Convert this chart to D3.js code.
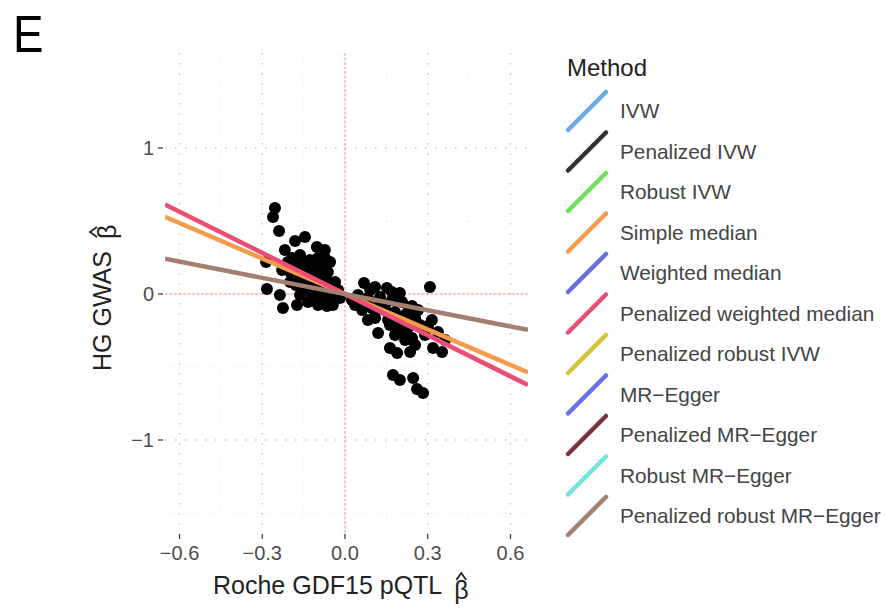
<!DOCTYPE html>
<html><head><meta charset="utf-8">
<script src="https://cdn.jsdelivr.net/npm/d3@7"></script>
<style>body{margin:0;background:#fff}svg{display:block;font-family:"Liberation Sans",Arial,Helvetica,sans-serif}</style>
</head><body><svg id="c" width="885" height="613"></svg>
<script>
// ---- data ----
const pointX = [-0.254,-0.261,-0.239,-0.218,-0.181,-0.145,-0.102,-0.286,-0.283,-0.236,-0.225,-0.174,
  -0.163,-0.127,-0.098,-0.083,-0.116,-0.145,-0.181,-0.199,-0.163,-0.127,-0.091,-0.062,-0.073,-0.109,-0.145,
  -0.054,-0.036,-0.083,-0.098,-0.065,-0.044,-0.120,-0.199,-0.228,-0.073,-0.054,-0.036,-0.025,-0.163,-0.134,-0.091,-0.178,
  -0.192,-0.152,-0.105,-0.069,-0.098,-0.156,-0.054,-0.018,-0.073,-0.207,
  0.069,0.109,0.152,0.199,0.308,0.054,0.120,0.163,0.189,0.236,0.319,0.352,0.337,0.174,0.199,0.247,0.261,0.283,
  0.047,0.083,0.127,0.170,0.207,0.243,0.062,0.098,0.145,0.181,0.218,0.254,0.109,0.156,0.192,0.228,0.272,0.181,0.218,
  0.145,0.083,0.290,0.254,0.363,0.315,0.025,
  0.091,0.127,0.170,0.228,0.265,0.109,0.163,0.207,0.301,0.243,0.073,0.036];
const pointY = [0.589,0.527,0.432,0.301,0.363,0.390,0.322,0.219,0.034,-0.007,-0.096,-0.075,
  0.267,0.233,0.247,0.199,0.164,0.178,0.199,0.151,0.110,0.096,0.130,0.151,0.062,0.041,0.027,
  0.014,-0.021,-0.021,-0.075,-0.082,-0.075,-0.027,0.082,0.164,0.301,0.219,0.082,0.027,-0.007,-0.055,0.027,0.062,
  0.247,0.219,0.192,0.096,0.082,0.062,-0.041,-0.027,0.247,0.219,
  0.075,0.048,0.041,0.007,0.048,-0.062,-0.267,-0.370,-0.404,-0.397,-0.370,-0.397,-0.260,-0.555,-0.589,-0.575,-0.651,-0.678,
  -0.007,-0.027,-0.021,-0.041,-0.055,-0.082,-0.110,-0.096,-0.110,-0.123,-0.144,-0.164,-0.164,-0.178,-0.212,-0.233,-0.212,-0.281,-0.315,
  -0.075,-0.178,-0.281,-0.349,-0.315,-0.178,-0.041,
  0.027,-0.055,0.014,-0.123,-0.110,-0.123,-0.212,-0.260,-0.219,-0.301,-0.041,-0.075];

const methods = ["IVW","Penalized IVW","Robust IVW","Simple median","Weighted median",
  "Penalized weighted median","Penalized robust IVW","MR\u2212Egger","Penalized MR\u2212Egger",
  "Robust MR\u2212Egger","Penalized robust MR\u2212Egger"];
const methodColors = ["#6aaae8","#333333","#6ee05a","#f59c4c","#6a6fe0","#ec4d73",
  "#d8c23a","#6373e8","#7d3040","#6fe3dc","#a28070"];
// fitted slopes (intercept 0) for visible lines
const lineMethods = ["Simple median","Penalized weighted median","Penalized robust MR\u2212Egger"];
const lineSlopes = [-0.81,-0.94,-0.37];

const xTicks = [-0.6,-0.3,0.0,0.3,0.6];
const xTickLabels = ["\u22120.6","\u22120.3","0.0","0.3","0.6"];
const yTicks = [-1,0,1];
const yTickLabels = ["\u22121","0","1"];
const xMinor = [-0.45,-0.15,0.15,0.45];
const yMinor = [-1.5,-0.5,0.5,1.5];

// ---- chart ----
const svg = d3.select("#c");
const P = {l:165, r:528, t:53, b:533};
const x = d3.scaleLinear().domain([-0.6526,0.6635]).range([P.l,P.r]);
const y = d3.scaleLinear().domain([-1.637,1.651]).range([P.b,P.t]);

const grid = svg.append("g");
grid.selectAll(".vmin").data(xMinor).join("line")
  .attr("x1",d=>x(d)).attr("x2",d=>x(d)).attr("y1",P.t).attr("y2",P.b)
  .attr("stroke","#dcdcdc").attr("stroke-width",0.8).attr("stroke-dasharray","0.8,4");
grid.selectAll(".hmin").data(yMinor).join("line")
  .attr("y1",d=>y(d)).attr("y2",d=>y(d)).attr("x1",P.l).attr("x2",P.r)
  .attr("stroke","#dcdcdc").attr("stroke-width",0.8).attr("stroke-dasharray","0.8,4");
grid.selectAll(".vmaj").data(xTicks.filter(d=>d!==0)).join("line")
  .attr("x1",d=>x(d)).attr("x2",d=>x(d)).attr("y1",P.t).attr("y2",P.b)
  .attr("stroke","#c4c4c4").attr("stroke-width",1.4).attr("stroke-dasharray","1.4,8.6");
grid.selectAll(".hmaj").data(yTicks.filter(d=>d!==0)).join("line")
  .attr("y1",d=>y(d)).attr("y2",d=>y(d)).attr("x1",P.l).attr("x2",P.r)
  .attr("stroke","#c4c4c4").attr("stroke-width",1.4).attr("stroke-dasharray","1.4,8.6");
// zero reference lines
grid.append("line").attr("x1",x(0)).attr("x2",x(0)).attr("y1",P.t).attr("y2",P.b)
  .attr("stroke","#f07a7a").attr("stroke-opacity",0.55).attr("stroke-width",1.6).attr("stroke-dasharray","3,1.5");
grid.append("line").attr("y1",y(0)).attr("y2",y(0)).attr("x1",P.l).attr("x2",P.r)
  .attr("stroke","#f07a7a").attr("stroke-opacity",0.55).attr("stroke-width",1.6).attr("stroke-dasharray","3,1.5");

// points
svg.append("g").selectAll("circle").data(pointX.map((d,i)=>[d,pointY[i]])).join("circle")
  .attr("cx",d=>x(d[0])).attr("cy",d=>y(d[1])).attr("r",6).attr("fill","#000");

// lines
svg.append("defs").append("clipPath").attr("id","pc").append("rect")
  .attr("x",P.l).attr("y",P.t).attr("width",P.r-P.l).attr("height",P.b-P.t);
const [x0,x1] = x.domain();
svg.append("g").attr("clip-path","url(#pc)").selectAll("line").data(lineMethods).join("line")
  .attr("x1",x(x0)).attr("x2",x(x1))
  .attr("y1",(d,i)=>y(lineSlopes[i]*x0)).attr("y2",(d,i)=>y(lineSlopes[i]*x1))
  .attr("stroke",d=>methodColors[methods.indexOf(d)]).attr("stroke-width",4.5);

// axes
const tickCol = "#4d4d4d";
const xa = svg.append("g");
xa.selectAll("line").data(xTicks).join("line")
  .attr("x1",d=>x(d)).attr("x2",d=>x(d)).attr("y1",P.b+1).attr("y2",P.b+6)
  .attr("stroke","#333").attr("stroke-width",1.2);
xa.selectAll("text").data(xTicks).join("text")
  .attr("x",d=>x(d)).attr("y",553).attr("dy","0.35em").attr("text-anchor","middle")
  .attr("font-size",20).attr("fill",tickCol).text((d,i)=>xTickLabels[i]);
const ya = svg.append("g");
ya.selectAll("line").data(yTicks).join("line")
  .attr("y1",d=>y(d)).attr("y2",d=>y(d)).attr("x1",P.l-7).attr("x2",P.l-2)
  .attr("stroke","#333").attr("stroke-width",1.2);
ya.selectAll("text").data(yTicks).join("text")
  .attr("x",P.l-11).attr("y",d=>y(d)).attr("dy","0.35em").attr("text-anchor","end")
  .attr("font-size",20).attr("fill",tickCol).text((d,i)=>yTickLabels[i]);

// axis titles (beta with a hat accent)
function hat(g, cx, cy){
  g.append("path").attr("d",`M${cx-5},${cy+4} L${cx},${cy-3} L${cx+5},${cy+4}`)
    .attr("fill","none").attr("stroke","#222").attr("stroke-width",1.8);
}
const xt = svg.append("text").attr("x",213).attr("y",594).attr("font-size",25).attr("fill","#222")
  .text("Roche GDF15 pQTL");
const xtW = xt.node().getComputedTextLength();
svg.append("text").attr("x",213+xtW+12).attr("y",599).attr("font-size",25).attr("fill","#222").text("\u03b2");
hat(svg, 213+xtW+12+7, 576);

const yt = svg.append("g").attr("transform","translate(111,371) rotate(-90)");
const ytt = yt.append("text").attr("x",0).attr("y",0).attr("font-size",25).attr("fill","#222").text("HG GWAS");
const ytW = ytt.node().getComputedTextLength();
yt.append("text").attr("x",ytW+12).attr("y",5).attr("font-size",25).attr("fill","#222").text("\u03b2");
hat(yt, ytW+12+7, -18);

// panel label
svg.append("text").attr("x",13).attr("y",52).attr("font-size",52).attr("fill","#000")
  .attr("transform","translate(13,52) scale(0.88,1) translate(-13,-52)").text("E");

// legend
const lg = svg.append("g");
lg.append("text").attr("x",567).attr("y",76).attr("font-size",24).attr("fill","#222").text("Method");
const items = lg.selectAll("g.it").data(methods).join("g").attr("class","it")
  .attr("transform",(d,i)=>`translate(0,${111+i*40.5})`);
items.append("line").attr("x1",568).attr("x2",606).attr("y1",19).attr("y2",-19)
  .attr("stroke",(d,i)=>methodColors[i]).attr("stroke-width",4.5).attr("stroke-linecap","round");
items.append("text").attr("x",620).attr("y",0).attr("dy","0.35em").attr("font-size",20.8)
  .attr("fill","#444").text(d=>d);
</script></body></html>
